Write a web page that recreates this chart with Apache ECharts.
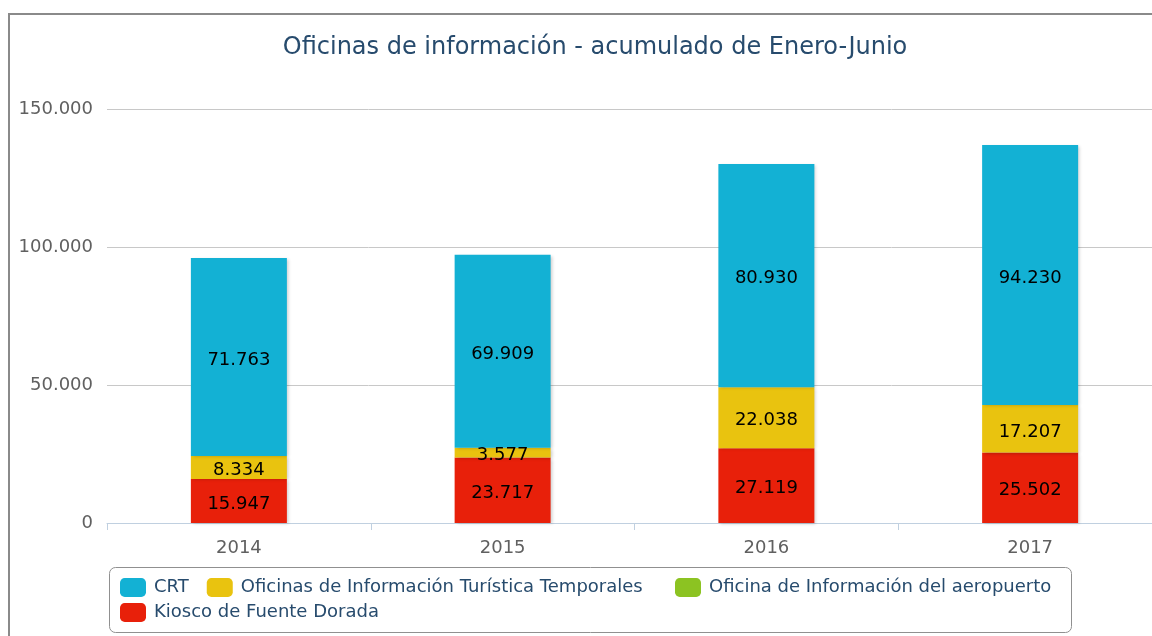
<!DOCTYPE html>
<html>
<head>
<meta charset="utf-8">
<script src="https://cdn.jsdelivr.net/npm/echarts@6/dist/echarts.min.js"></script>
<style>
  html, body { margin: 0; padding: 0; background: #fff; }
  #chart { width: 1152px; height: 636px; }
</style>
</head>
<body>
<div id="chart"></div>
<script>
// datos del gráfico
var years = ['2014', '2015', '2016', '2017'];
var crt = [71763, 69909, 80930, 94230];
var temporales = [8334, 3577, 22038, 17207];
var aeropuerto = ['-', '-', '-', '-'];
var kiosco = [15947, 23717, 27119, 25502];
var yTicks = [0, 50000, 100000, 150000];

var FONT = '"DejaVu Sans", Verdana, sans-serif';

function fmt(v) {
    return String(v).replace(/\B(?=(\d{3})+(?!\d))/g, '.');
}

var myChart = echarts.init(document.getElementById('chart'));

function barSeries(name, color, data) {
    return {
        name: name,
        type: 'bar',
        stack: 'total',
        barWidth: 96,
        data: data,
        itemStyle: {
            color: color,
            shadowColor: 'rgba(0,0,0,0.18)',
            shadowBlur: 3,
            shadowOffsetX: 2,
            shadowOffsetY: 1
        },
        label: {
            show: true,
            position: 'inside',
            offset: [0, 3],
            color: '#000',
            fontFamily: FONT,
            fontSize: 18,
            formatter: function (p) { return fmt(p.value); }
        }
    };
}

var legendText = { color: '#274b6d', fontFamily: FONT, fontSize: 18, padding: [0, 0, 0, 3] };

function legendRow(names, left, top) {
    return {
        data: names,
        left: left,
        top: top,
        itemWidth: 26,
        itemHeight: 19,
        itemGap: 18,
        icon: 'roundRect',
        textStyle: legendText
    };
}

var option = {
    animation: false,
    title: {
        text: 'Oficinas de información - acumulado de Enero-Junio',
        left: 590,
        textAlign: 'center',
        top: 31,
        textStyle: {
            color: '#274b6d',
            fontFamily: FONT,
            fontSize: 24,
            fontWeight: 'normal'
        }
    },
    graphic: [{
        type: 'rect',
        shape: { x: 9, y: 14, width: 1200, height: 700 },
        style: { fill: 'none', stroke: '#8a8a8a', lineWidth: 2 },
        silent: true
    }, {
        type: 'rect',
        shape: { x: 109.5, y: 567.5, width: 962, height: 65, r: 6 },
        style: { fill: 'none', stroke: '#909090', lineWidth: 1 },
        silent: true
    }],
    legend: [
        legendRow(['CRT', 'Oficinas de Información Turística Temporales'], 115, 573),
        legendRow(['Oficina de Información del aeropuerto'], 670, 573),
        legendRow(['Kiosco de Fuente Dorada'], 115, 598)
    ],
    grid: {
        left: 107,
        width: 1055,
        top: 109,
        bottom: 113,
        outerBoundsMode: 'none'
    },
    xAxis: {
        type: 'category',
        data: years,
        axisLine: { lineStyle: { color: '#c0d0e0', width: 1 } },
        axisTick: { show: true, length: 7, lineStyle: { color: '#c0d0e0' } },
        axisLabel: { color: '#606060', fontFamily: FONT, fontSize: 18, margin: 16 }
    },
    yAxis: {
        type: 'value',
        min: yTicks[0],
        max: yTicks[yTicks.length - 1],
        interval: yTicks[1] - yTicks[0],
        axisLine: { show: false },
        axisTick: { show: false },
        splitLine: { lineStyle: { color: '#c8c8c8', width: 1 } },
        axisLabel: {
            color: '#606060',
            fontFamily: FONT,
            fontSize: 18,
            margin: 14,
            formatter: function (v) { return fmt(v); }
        }
    },
    series: [
        barSeries('Kiosco de Fuente Dorada', '#e8200a', kiosco),
        barSeries('Oficina de Información del aeropuerto', '#8cc322', aeropuerto),
        barSeries('Oficinas de Información Turística Temporales', '#e9c30f', temporales),
        barSeries('CRT', '#13b1d4', crt)
    ]
};

myChart.setOption(option);
</script>
</body>
</html>
